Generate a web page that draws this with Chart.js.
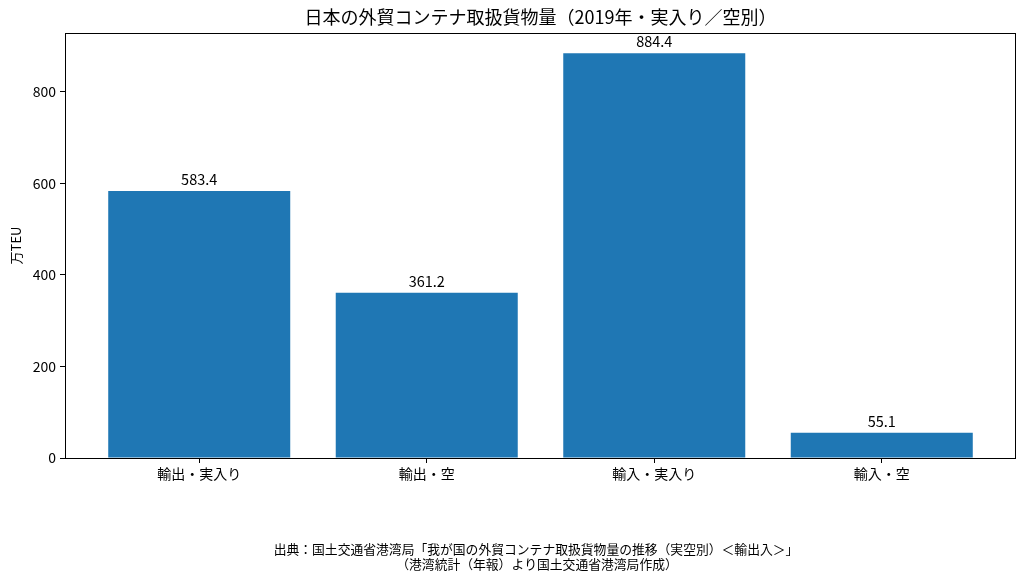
<!DOCTYPE html>
<html>
<head>
<meta charset="utf-8">
<script src="https://cdn.jsdelivr.net/npm/chart.js@4"></script>
<style>
html, body { margin: 0; padding: 0; background: #fff; }
</style>
</head>
<body>
<canvas id="myChart" width="1024" height="582"></canvas>
<script>
var categories = ["輸出・実入り", "輸出・空", "輸入・実入り", "輸入・空"];
var values = [583.4, 361.2, 884.4, 55.1];
var yTicks = [0, 200, 400, 600, 800];

var titleText = "日本の外貿コンテナ取扱貨物量（2019年・実入り／空別）";
var noteLines = ["出典：国土交通省港湾局「我が国の外貿コンテナ取扱貨物量の推移（実空別）＜輸出入＞」", "（港湾統計（年報）より国土交通省港湾局作成）"];

var fontName = "'Noto Sans CJK JP', 'Noto Sans', sans-serif";

var points = values.map(function (v, i) {
    return { x: i, y: v };
});

// frame, value labels, title and footnote
var framePlugin = {
    id: "frame",
    afterDatasetsDraw: function (chart) {
        var ctx = chart.ctx;
        var a = chart.chartArea;
        ctx.save();
        ctx.strokeStyle = "#000";
        ctx.lineWidth = 1;
        ctx.strokeRect(Math.round(a.left) + 0.5, Math.round(a.top) + 0.5,
            Math.round(a.right - a.left) - 1, Math.round(a.bottom - a.top));

        var meta = chart.getDatasetMeta(0);
        ctx.fillStyle = "#000";
        ctx.font = "14.5px " + fontName;
        ctx.textAlign = "center";
        ctx.textBaseline = "alphabetic";
        meta.data.forEach(function (bar, i) {
            ctx.fillText(values[i].toFixed(1), bar.x, bar.y - 6);
        });

        var cx = (a.left + a.right) / 2;
        ctx.font = "18px " + fontName;
        ctx.textBaseline = "middle";
        ctx.fillText(titleText, cx, 17);

        ctx.font = "12.8px " + fontName;
        ctx.fillText(noteLines[0], 536, 549);
        ctx.fillText(noteLines[1], 537, 564);
        ctx.restore();
    }
};

new Chart("myChart", {
    type: "bar",
    data: {
        datasets: [{
            data: points,
            backgroundColor: "#1f77b4",
            borderWidth: 0,
            barPercentage: 0.8,
            categoryPercentage: 1.0
        }]
    },
    options: {
        responsive: false,
        animation: false,
        layout: { padding: { left: 0, right: 8, top: 33, bottom: 40 } },
        plugins: {
            legend: { display: false },
            tooltip: { enabled: false },
            title: { display: false }
        },
        scales: {
            x: {
                type: "linear",
                min: -0.59,
                max: 3.59,
                offset: false,
                afterBuildTicks: function (scale) {
                    scale.ticks = categories.map(function (c, i) { return { value: i }; });
                },
                afterFit: function (scale) { scale.height = 84; },
                ticks: {
                    color: "#000",
                    font: { family: fontName, size: 14 },
                    padding: 2,
                    maxRotation: 0,
                    autoSkip: false,
                    callback: function (v) { return categories[v]; }
                },
                grid: {
                    offset: false,
                    drawOnChartArea: false,
                    drawTicks: true,
                    tickLength: 5,
                    color: "#000"
                },
                border: { display: false }
            },
            y: {
                min: 0,
                max: 928.6,
                afterBuildTicks: function (scale) {
                    scale.ticks = yTicks.map(function (v) { return { value: v }; });
                },
                afterFit: function (scale) { scale.width = 65; },
                title: {
                    display: true,
                    text: "万TEU",
                    color: "#000",
                    font: { family: fontName, size: 13 },
                    padding: { top: 8, bottom: 0 }
                },
                ticks: {
                    color: "#000",
                    font: { family: fontName, size: 14 },
                    padding: 4
                },
                grid: {
                    drawOnChartArea: false,
                    drawTicks: true,
                    tickLength: 5,
                    color: "#000"
                },
                border: { display: false }
            }
        }
    },
    plugins: [framePlugin]
});
</script>
</body>
</html>
